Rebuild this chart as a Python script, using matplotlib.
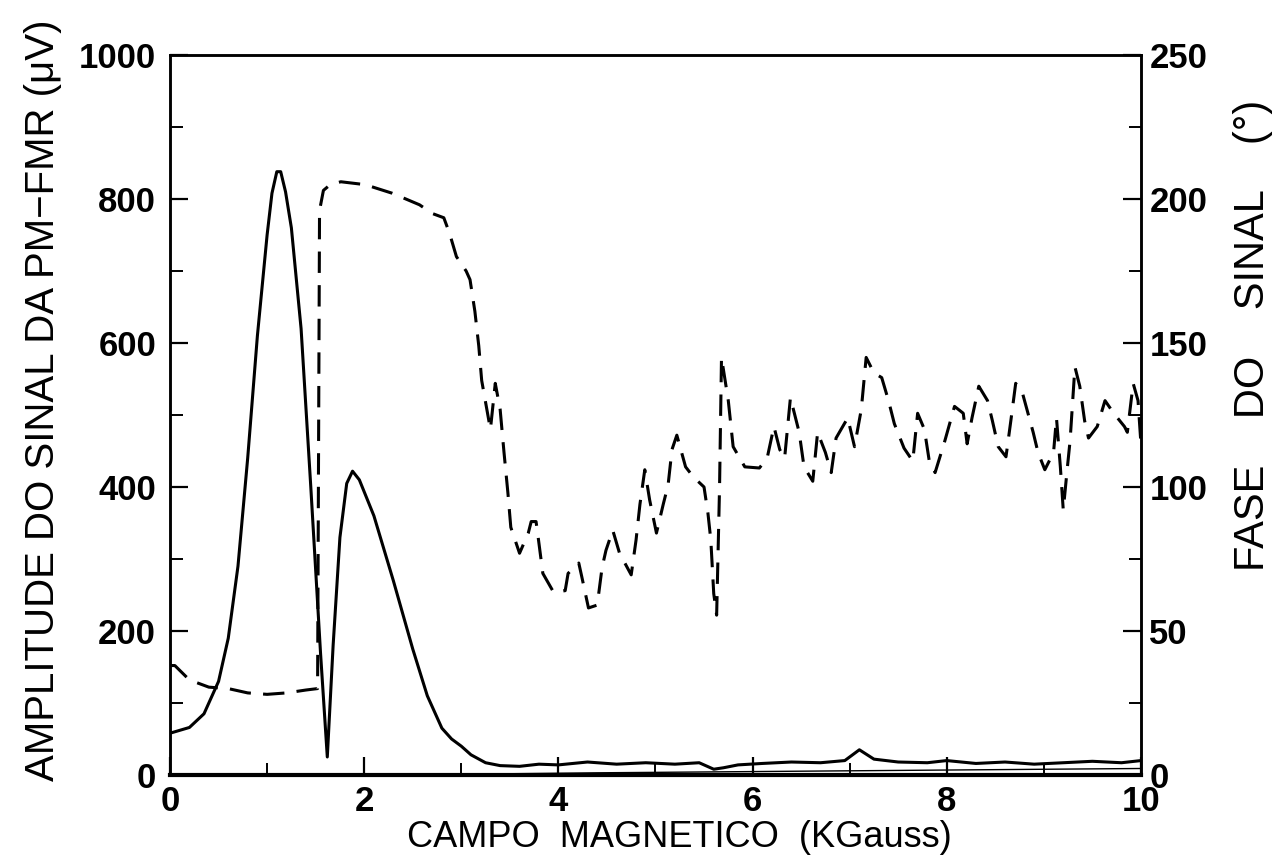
import numpy as np
import matplotlib
matplotlib.use("Agg")
import matplotlib.pyplot as plt
from matplotlib.ticker import MultipleLocator

# amplitude do sinal (uV) - curva cheia
amp_x = [0, 0.2, 0.35, 0.5, 0.6, 0.7, 0.8, 0.9, 1.0, 1.05, 1.1, 1.14, 1.19, 1.25, 1.35,
         1.45, 1.55, 1.62, 1.68, 1.75, 1.82, 1.88, 1.95, 2.1, 2.3, 2.5, 2.65, 2.8,
         2.9, 3.0, 3.1, 3.25, 3.4, 3.6, 3.8, 4.0, 4.3, 4.6, 4.9, 5.2, 5.45, 5.6,
         5.7, 5.85, 6.1, 6.4, 6.7, 6.95, 7.1, 7.25, 7.5, 7.8, 8.0, 8.3, 8.6, 8.9,
         9.2, 9.5, 9.8, 10.0]
amp_y = [58, 66, 85, 130, 190, 290, 440, 610, 750, 808, 838, 838, 810, 760, 620,
         400, 170, 25, 180, 330, 405, 422, 410, 360, 270, 175, 110, 65,
         50, 40, 28, 17, 13, 12, 15, 14, 18, 15, 17, 15, 17, 8,
         10, 14, 16, 18, 17, 20, 35, 22, 18, 17, 20, 16, 18, 15,
         17, 19, 17, 20]

# linha fina junto ao eixo
base_x = [3.0, 4.4, 10.0]
base_y = [1, 3, 9]

# fase do sinal (graus) - curva tracejada
fase_x = [0, 0.05, 0.2, 0.4, 0.6, 0.8, 1.0, 1.2, 1.4, 1.52, 1.54, 1.58, 1.65, 1.76,
          2.01, 2.29, 2.57, 2.7, 2.82, 2.88, 2.95, 3.05, 3.09, 3.14, 3.18, 3.21,
          3.30, 3.35, 3.40, 3.44, 3.48, 3.51, 3.60, 3.69, 3.72, 3.77, 3.79, 3.84,
          3.95, 4.07, 4.10, 4.21, 4.24, 4.31, 4.40, 4.45, 4.49, 4.56, 4.63, 4.75,
          4.80, 4.84, 4.89, 4.94, 5.01, 5.08, 5.13, 5.17, 5.22, 5.31, 5.39, 5.50,
          5.54, 5.57, 5.60, 5.63, 5.66, 5.68, 5.75, 5.80, 5.92, 6.07, 6.15, 6.22,
          6.28, 6.33, 6.39, 6.48, 6.53, 6.62, 6.67, 6.75, 6.81, 6.86, 6.98, 7.05,
          7.12, 7.17, 7.25, 7.33, 7.40, 7.46, 7.56, 7.65, 7.70, 7.77, 7.82, 7.88,
          7.98, 8.08, 8.17, 8.21, 8.26, 8.33, 8.42, 8.47, 8.53, 8.61, 8.66, 8.71,
          8.78, 8.85, 8.89, 8.94, 9.01, 9.10, 9.13, 9.17, 9.20, 9.24, 9.27, 9.32,
          9.37, 9.42, 9.46, 9.55, 9.63, 9.72, 9.83, 9.86, 9.92, 9.97, 10.0]
fase_y = [38, 38, 33, 30.5, 30, 28.5, 28, 28.5, 29.5, 30, 196, 203, 205, 206,
          205, 202, 198, 195, 193.5, 188, 180, 175, 172, 161, 149, 137,
          120, 136, 127, 112, 98, 86, 77, 84, 88, 88, 83, 70,
          63.5, 64, 70, 73.6, 69, 58, 59, 72, 78, 85, 77, 69.5,
          81.6, 94, 106, 95.5, 84, 94, 100.7, 113, 118, 107, 103.5, 100,
          91, 81.6, 63, 55.5, 100, 145, 130, 114, 107, 106.6, 110, 121,
          113, 110, 131, 119, 107, 102, 119, 112, 105, 117, 124, 114,
          127, 145, 139.6, 138, 130, 122, 113.5, 109, 125.6, 120, 109, 105,
          116, 128, 125.6, 115, 124, 135, 130, 123, 114, 110.5, 123, 136,
          132.6, 124, 119, 112, 106, 112, 124, 107, 92, 106, 116, 141.7,
          135, 123, 117, 121, 130, 125.6, 121, 119, 136, 130, 115]

label_font = ['Liberation Sans', 'DejaVu Sans']
tick_font = {'family': 'Liberation Sans', 'weight': 'bold', 'size': 25}

fig = plt.figure(figsize=(12.86, 8.55), dpi=100)
ax = fig.add_axes([0.1322, 0.0936, 0.755, 0.842])
ax2 = ax.twinx()

ax.plot(amp_x, amp_y, color='black', lw=2.2)
ax.plot(base_x, base_y, color='black', lw=1.0)
ax2.plot(fase_x, fase_y, color='black', lw=2.2, linestyle=(0, (7, 4)))

ax.set_xlim(0, 10)
ax.set_ylim(0, 1000)
ax2.set_ylim(0, 250)

ax.xaxis.set_major_locator(MultipleLocator(2))
ax.xaxis.set_minor_locator(MultipleLocator(1))
ax.yaxis.set_major_locator(MultipleLocator(200))
ax.yaxis.set_minor_locator(MultipleLocator(100))
ax2.yaxis.set_major_locator(MultipleLocator(50))
ax2.yaxis.set_minor_locator(MultipleLocator(25))

ax.tick_params(axis='both', which='major', direction='in', length=13, width=1.6, pad=10)
ax.tick_params(axis='both', which='minor', direction='in', length=9, width=1.4)
ax.tick_params(axis='x', which='major', pad=7)
ax2.tick_params(axis='y', which='major', direction='in', length=13, width=1.6, pad=6)
ax2.tick_params(axis='y', which='minor', direction='in', length=9, width=1.4)

for a in (ax, ax2):
    for s in a.spines.values():
        s.set_linewidth(1.8)
    for lab in a.get_xticklabels() + a.get_yticklabels():
        lab.set_fontproperties(tick_font)
ax.spines['bottom'].set_linewidth(3)

ax.set_xlabel('CAMPO  MAGNETICO  (KGauss)', family=label_font, size=26)
ax.set_ylabel('AMPLITUDE DO SINAL DA PM−FMR (μV)', family=label_font, size=29)
ax2.set_ylabel('FASE    DO    SINAL    (°)', family=label_font, size=30)
ax.xaxis.set_label_coords(0.525, -0.063)
ax.yaxis.set_label_coords(-0.111, 0.521)
ax2.yaxis.set_label_coords(1.095, 0.611)

fig.savefig('out.png', dpi=100)
